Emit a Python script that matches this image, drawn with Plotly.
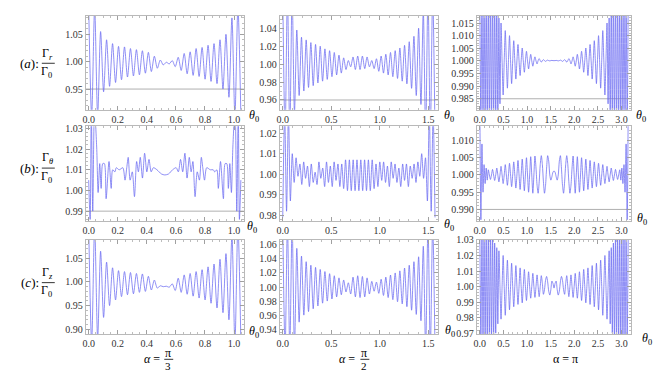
import numpy as np
import plotly.graph_objects as go

# ---------------- data (deviation from 1, in units of 0.001) ----------------
THETA_MAX = [np.pi / 3, np.pi / 2, np.pi]

# row (a): Gamma_r / Gamma_0
gr_pi3 = [100, -100, 100, -100, 55, -55, 40, -45, 33, -38, 28, -33, 27, -28, 24, -26,
          22, -24, 20, -21, 17, -18, 10, -12, 3, -6, -1, -4, 2, -9, 8, -16, 15, -22,
          18, -25, 24, -27, 26, -32, 30, -36, 33, -40, 40, -50, 50, -65, 80, -100, 100, -100]
gr_pi2 = [80, -80, 80, -80, 80, -55, 38, -35, 30, -30, 27, -26, 24, -24, 22, -21, 20, -19,
          17, -17, 15, -14, 13, -12, 10, -10, 7, -6, 4, -3, 8, -6, 9, -6, 9, -5, 8, -3, 4, -5,
          6, -8, 9, -10, 11, -12, 13, -14, 15, -16, 18, -19, 21, -22, 25, -27, 31, -35, 40,
          -45, 60, -80, 80, -80, 80, -80]
gr_pi = [25, -25, 25, -25, 25, -25, 25, -25, 25, -25, 25, -25, 25, -25, 25, -25, 25, -25,
         17, -17, 15,
         0, -13.5, 0, 12, 0, -10.8, 0, 10, 0, -9, 0, 8, 0, -7.2, 0, 6.5, 0, -5.8, 0, 5.1,
         0, -4.5, 0, 3.8, 0, -3.2, 0, 2.6, 0, -2.1, 0, 1.6, 0, -1.2, 0.1, 0.9, 0.1, -0.5,
         0.1, 0.5, 0.1, -0.2, 0.1, 0.3,
         0.1, 0, 0.1, 0.2, 0.1, 0.1, 0.1, 0.2, 0.1, 0, 0.1,
         0.3, 0.1, -0.2, 0.1, 0.5, 0.1, -0.5, 0.1, 0.9, 0.1, -1.2, 0, 1.6, 0, -2.1, 0, 2.6,
         0, -3.2, 0, 3.8, 0, -4.5, 0, 5.1, 0, -5.8, 0, 6.5, 0, -7.2, 0, 8, 0, -9, 0, 10, 0,
         -10.8, 0, 12, 0, -13.5, 0,
         15, -17, 17,
         -25, 25, -25, 25, -25, 25, -25, 25, -25, 25, -25, 25, -25, 25, -25, 25, -25, 25]

# row (b): Gamma_theta / Gamma_0
gt_pi3_theta = [0.000, 0.010, 0.018, 0.028, 0.040, 0.055, 0.065, 0.076, 0.086,
                0.097, 0.108, 0.120, 0.140, 0.155, 0.165, 0.180, 0.190, 0.210, 0.235, 0.250,
                0.262, 0.272, 0.285, 0.300, 0.315, 0.330, 0.342, 0.355, 0.370, 0.385, 0.400,
                0.415, 0.430, 0.445, 0.470, 0.500, 0.524,
                0.550, 0.577, 0.602, 0.617, 0.632, 0.647, 0.662, 0.677, 0.692, 0.705, 0.717,
                0.732, 0.747, 0.762, 0.775, 0.785, 0.797, 0.812, 0.837, 0.857, 0.867, 0.882,
                0.892, 0.907, 0.927, 0.939, 0.950, 0.961, 0.971, 0.982, 0.992, 1.007, 1.019,
                1.029, 1.037, 1.047]
gt_pi3 = [5, -14, 40, -10, 40, 21, -1, 13, 1, 13, 13, -4, 14, 1, 10, 9, 11, 10, 11, 5,
          11, 16, 5, 9, -3, 14, 9, 16, 6, 18, 9, 15, 9, 11, 10, 8, 7.5,
          8, 10, 11, 9, 15, 9, 18, 6, 16, 9, 14, -3, 9, 5, 16, 11, 5, 11, 10, 10, 9, 10,
          1, 14, -4, 13, 13, 1, 13, -1, 21, 40, -10, 40, -14, 5]
gt_pi2 = [-21, 30, -18, 30, -13, 10, -4, 8, -1, 5, -5, 6, -2, 4, -6, 5, -4, 1, -5, 6, -2, 3,
          -6, 6, -4, 4, -6, 6, -3, 5, -6, 5, -7, 7, -8, 7, -8, 7, -8, 7, -8, 7, -8, 7, -8, 7,
          -8, 7, -7, 5, -6, 6, -3, 6, -4, 4, -6, 6, -2, 5, -4, 3, -6, 5, -3, 5, -6, 4, -2, 5,
          -4, 6, -1, 10, -2, 8, -13, 30, -18, 30, -21]
gt_pi = [20, -13, 9, -5, 3, -2.5, 2, -1.5, 1.5,
         0, -1.3, 0, 1.6, 0, -1.6, 0, 2.0, 0, -2.0, 0, 2.5, 0, -2.5, 0, 3.0, 0, -3.0, 0, 3.4,
         0, -3.4, 0, 3.8, 0, -3.8, 0, 4.2, 0, -4.2, 0, 4.6, 0, -4.6, 0, 5.0, 0, -5.0, 0, 5.3,
         0, -5.3, 0, 5.5,
         2, -3, -5.3, -2, 3, 5.6, 3, -2, -5.3, -3, 2, 5.6, 4, 0, -1.5, -0.5, 0.8, 1.2, 0.8,
         -0.5, -1.5, 0, 4, 5.6, 2, -3, -5.3, -2, 3, 5.6, 3, -2, -5.3, -3, 2,
         5.5, 0, -5.3, 0, 5.3, 0, -5.0, 0, 5.0, 0, -4.6, 0, 4.6, 0, -4.2, 0, 4.2, 0, -3.8, 0,
         3.8, 0, -3.4, 0, 3.4, 0, -3.0, 0, 3.0, 0, -2.5, 0, 2.5, 0, -2.0, 0, 2.0, 0, -1.6, 0,
         1.6, 0, -1.3, 0,
         1.5, -1.5, 2, -2.5, 3, -5, 9, -13, 20]

# row (c): Gamma_z / Gamma_0
gz_pi3 = [120, -130, 120, -120, 65, -75, 42, -50, 30, -38, 24, -31, 22, -27, 20, -25, 18, -22,
          17, -20, 12, -17, 4, -13, -8, -10, -9, -11, -4, -18, 8, -22, 15, -26, 18, -30, 22,
          -34, 26, -38, 32, -45, 38, -55, 48, -65, 60, -80, 100, -130, 120, -130]
gz_pi2 = [90, -90, 90, -90, 90, -90, 55, -50, 44, -40, 36, -35, 31, -31, 28, -27, 25, -23, 22,
          -20, 19, -17, 16, -14, 13, -11, 10, -7, 6, -10, 14, -14, 16, -15, 15, -14, 13, -10,
          8, -6, 7, -9, 11, -12, 14, -15, 17, -18, 20, -21, 23, -24, 27, -28, 31, -33, 36,
          -39, 43, -48, 58, -90, 90, -90, 90, -90]
gz_pi = [35, -35, 35, -35, 35, -35, 35, -35, 35, -35, 35, -35, 35, -35,
         28, -30, 25, -24, 23,
         0, -21, 0, 20, 0, -18.5, 0, 17, 0, -15, 0, 15, 0, -13, 0, 13.5, 0, -11.5, 0, 12,
         0, -10.5, 0, 11, 0, -9, 0, 9.5, 0, -7.5, 0, 8.5, 0, -7, 0, 7.5, 0, -6.5, 0, 7,
         2, -5, -2, 4, 6.5, 3, -3, -5.5, -2, 3.5, 2, -1, 2, 3.5, -2, -5.5, -3, 3, 6.5, 4,
         -2, -5, 2, 7,
         0, -6.5, 0, 7.5, 0, -7, 0, 8.5, 0, -7.5, 0, 9.5, 0, -9, 0, 11, 0, -10.5, 0, 12,
         0, -11.5, 0, 13.5, 0, -13, 0, 15, 0, -15, 0, 17, 0, -18.5, 0, 20, 0, -21, 0, 23,
         -24, 25, -30, 28,
         -35, 35, -35, 35, -35, 35, -35, 35, -35, 35, -35, 35, -35, 35]

SERIES = {
    (0, 0): (None, gr_pi3), (0, 1): (None, gr_pi2), (0, 2): (None, gr_pi),
    (1, 0): (gt_pi3_theta, gt_pi3), (1, 1): (None, gt_pi2), (1, 2): (None, gt_pi),
    (2, 0): (None, gz_pi3), (2, 1): (None, gz_pi2), (2, 2): (None, gz_pi),
}

# ---------------- layout / style ----------------
W, H = 667, 375
COLS = [(83, 242), (278, 437), (476, 631)]
ROWS = [(10, 107), (124, 222), (241, 338)]
XRANGE = [(-0.021, 1.068), (-0.031, 1.602), (-0.063, 3.204)]
XDTICK = [(0.2, 0.05), (0.5, 0.1), (0.5, 0.1)]
YSPEC = {
    (0, 0): ((0.912, 1.084), 0.05, 0.01, '.2f', 0.95),
    (0, 1): ((0.949, 1.054), 0.02, 0.005, '.2f', 0.96),
    (0, 2): ((0.9806, 1.0179), 0.005, 0.001, '.3f', 0.985),
    (1, 0): ((0.985, 1.031), 0.01, 0.002, '.2f', 0.99),
    (1, 1): ((0.977, 1.0233), 0.01, 0.002, '.2f', None),
    (1, 2): ((0.9865, 1.0141), 0.005, 0.001, '.3f', 0.99),
    (2, 0): ((0.8897, 1.089), 0.05, 0.01, '.2f', None),
    (2, 1): ((0.933, 1.067), 0.02, 0.005, '.2f', None),
    (2, 2): ((0.9694, 1.030), 0.01, 0.002, '.2f', None),
}
LINE = 'rgb(105,105,242)'
FONT = 'Liberation Serif, Times New Roman, DejaVu Serif, serif'

fig = go.Figure()
shapes, annotations = [], []

for (r, c), (th, dev) in SERIES.items():
    k = r * 3 + c + 1
    xs = 'x' if k == 1 else f'x{k}'
    ys = 'y' if k == 1 else f'y{k}'
    dev = np.asarray(dev, dtype=float)
    theta = np.linspace(0, THETA_MAX[c], len(dev)) if th is None else np.asarray(th)
    fig.add_trace(go.Scatter(x=theta, y=1 + dev / 1000.0, mode='lines',
                             line=dict(color=LINE, width=0.75, shape='spline', smoothing=0.8),
                             xaxis=xs, yaxis=ys, hoverinfo='skip', showlegend=False))
    yr, ydt, ymin, yfmt, yline = YSPEC[(r, c)]
    common = dict(showline=True, linecolor='#b9b9b9', linewidth=1, mirror='ticks',
                  ticks='inside', ticklen=4, tickwidth=0.8, tickcolor='#a0a0a0',
                  showgrid=False, zeroline=False,
                  tickfont=dict(family=FONT, size=10, color='#333333'))
    fig.layout[f'xaxis{k}'] = dict(
        common, domain=[COLS[c][0] / W, COLS[c][1] / W], anchor=ys,
        range=list(XRANGE[c]), tick0=0, dtick=XDTICK[c][0], tickformat='.1f',
        minor=dict(ticks='inside', ticklen=2, tickcolor='#bdbdbd', dtick=XDTICK[c][1],
                   tick0=0, showgrid=False))
    fig.layout[f'yaxis{k}'] = dict(
        common, domain=[1 - ROWS[r][1] / H, 1 - ROWS[r][0] / H], anchor=xs,
        range=list(yr), tick0=1.0, dtick=ydt, tickformat=yfmt,
        minor=dict(ticks='inside', ticklen=2, tickcolor='#bdbdbd', dtick=ymin,
                   tick0=1.0, showgrid=False))
    if yline is not None:
        shapes.append(dict(type='line', xref=f'{xs} domain', x0=0, x1=1, yref=ys,
                           y0=yline, y1=yline, line=dict(color='#b0b0b0', width=1),
                           layer='below'))


def ann(x, y, text, size=12, color='black'):
    annotations.append(dict(x=x / W, y=1 - y / H, xref='paper', yref='paper', text=text,
                            showarrow=False, xanchor='center', yanchor='middle',
                            font=dict(family=FONT, size=size, color=color)))


def bar(x0, x1, y):
    shapes.append(dict(type='line', xref='paper', yref='paper', x0=x0 / W, x1=x1 / W,
                       y0=1 - y / H, y1=1 - y / H, line=dict(color='black', width=0.8)))


# row labels
for lab, sub, yc in [('a', 'r', 59), ('b', 'θ', 167), ('c', 'z', 285)]:
    ann(27, yc, f'(<i>{lab}</i>):', 13)
    ann(45, yc - 10, f'Γ<sub><i>{sub}</i></sub>', 12)
    bar(39, 52, yc)
    ann(44, yc + 9, 'Γ<sub>0</sub>', 12)

# theta_0 labels
for (x, y) in [(252, 113), (448, 113), (641, 113), (250, 228), (448, 226), (642, 219),
               (252, 336), (449, 335), (647, 343)]:
    ann(x, y, '<i>θ</i><sub>0</sub>', 12)

# alpha labels
ann(150, 364, '<i>α</i> =', 12)
ann(166, 357, 'π', 12)
bar(162, 171, 364)
ann(166, 371, '3', 11)
ann(346, 364, '<i>α</i> =', 12)
ann(363, 357, 'π', 12)
bar(359, 368, 364)
ann(363, 371, '2', 11)
ann(565, 364, 'α = π', 12)

fig.update_layout(width=W, height=H, margin=dict(l=0, r=0, t=0, b=0),
                  plot_bgcolor='white', paper_bgcolor='white',
                  shapes=shapes, annotations=annotations, showlegend=False)

fig.write_html('out.html', config={'displayModeBar': False},
               post_script="document.body.style.margin='0';document.body.style.overflow='hidden';")
